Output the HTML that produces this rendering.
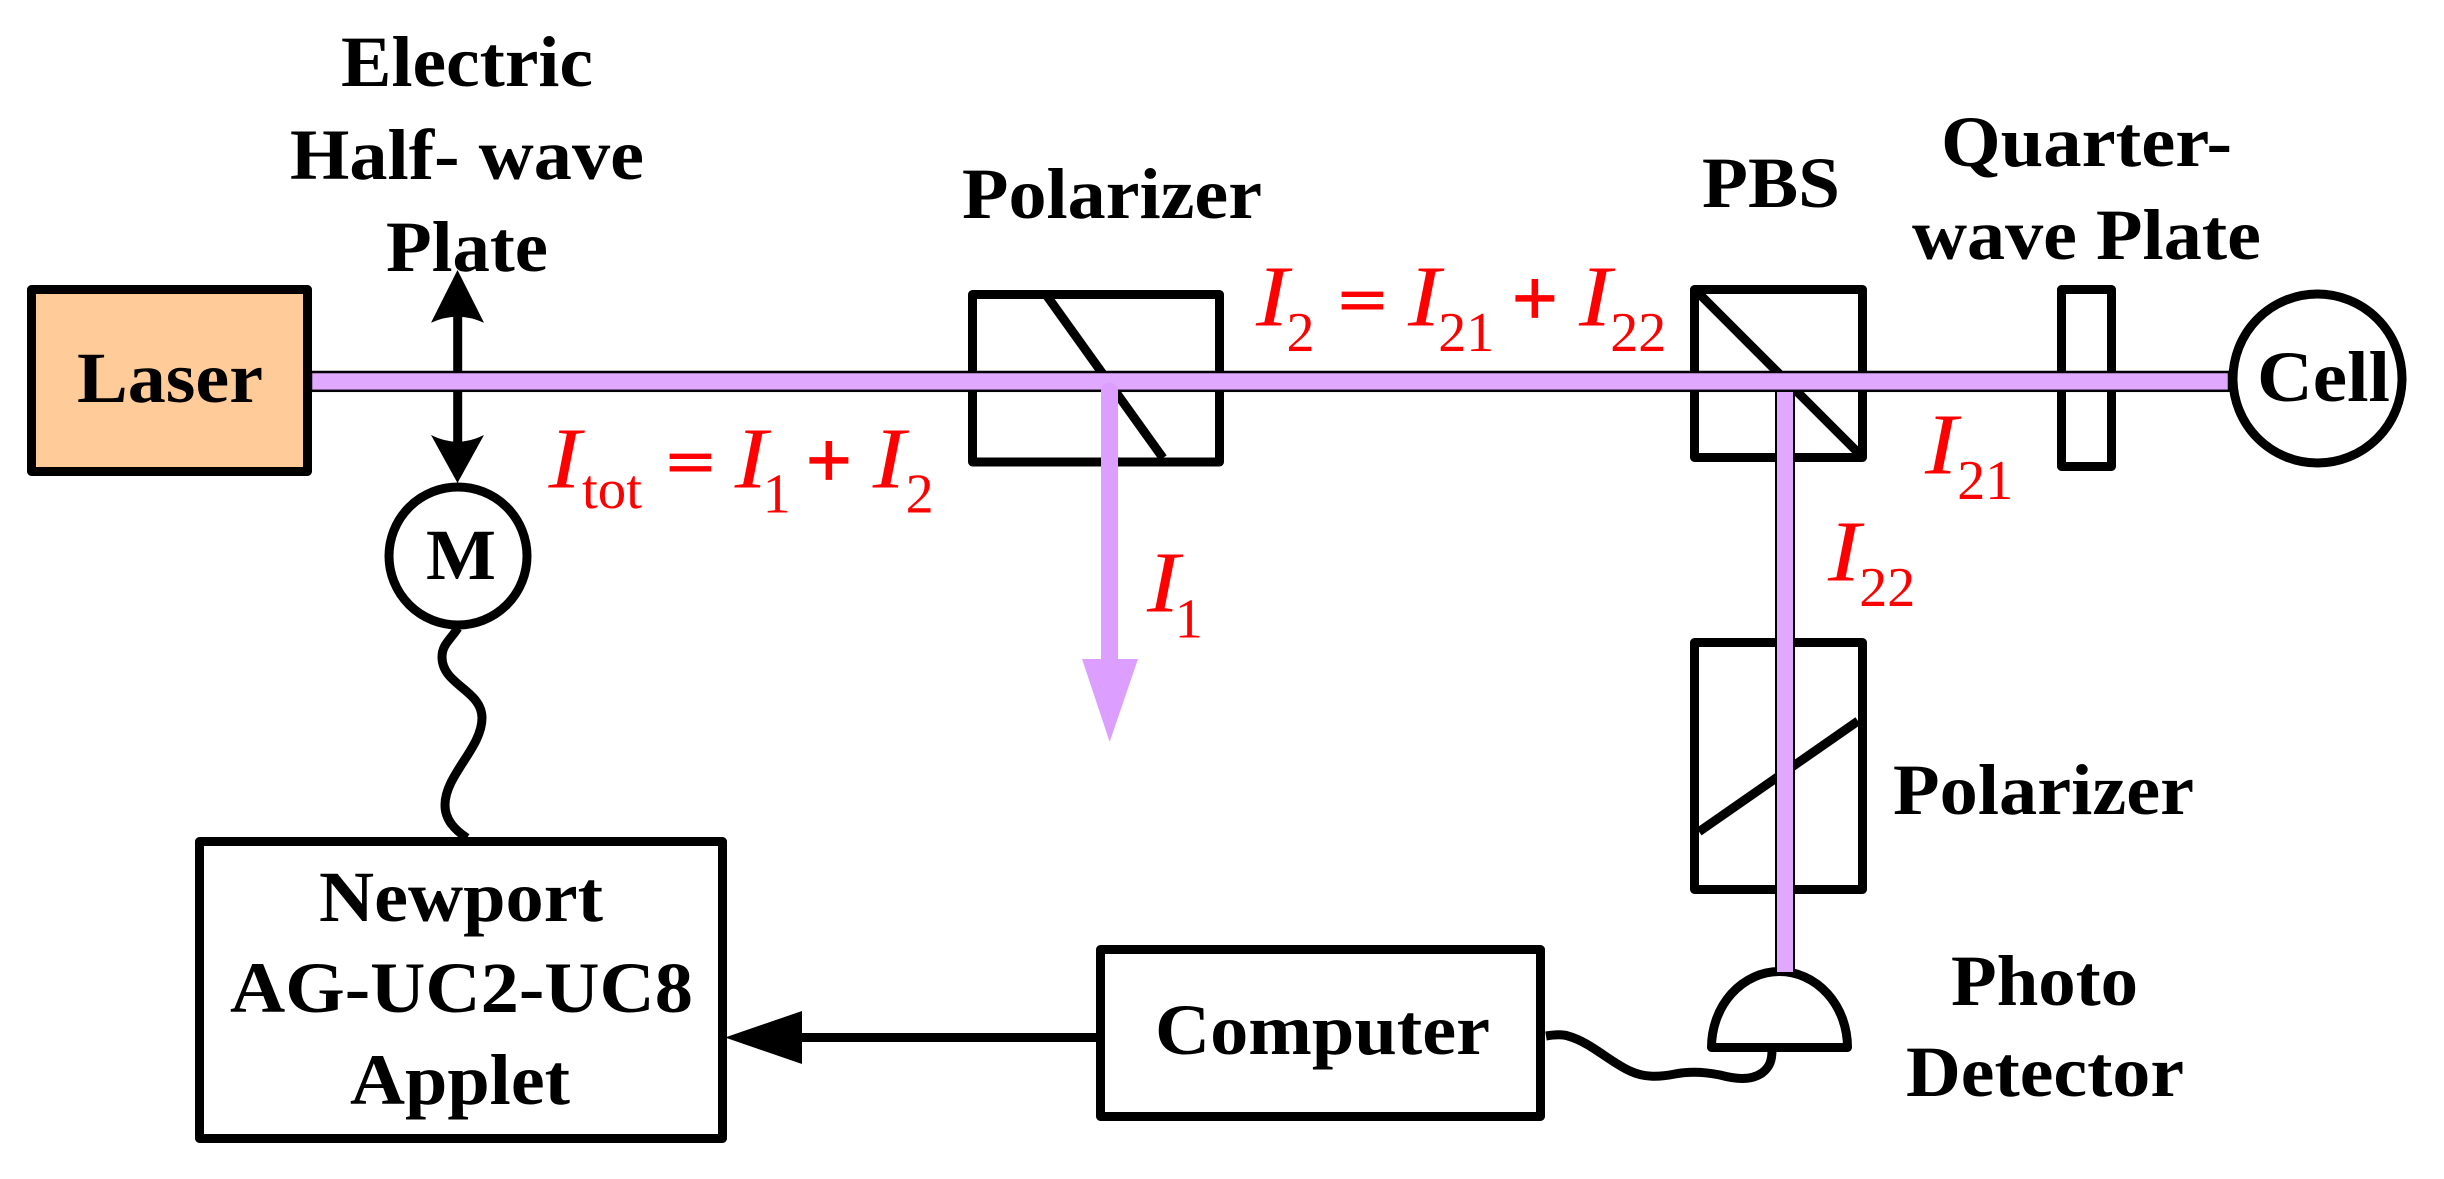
<!DOCTYPE html>
<html><head><meta charset="utf-8"><style>
html,body{margin:0;padding:0;background:#fff;width:2444px;height:1179px;overflow:hidden}
svg{display:block}
.b{font-family:"Liberation Serif",serif;font-weight:bold;font-size:71.5px;fill:#000}
.i{font-family:"Liberation Serif",serif;font-style:italic;font-size:87px;fill:#f00}
.s{font-family:"Liberation Serif",serif;font-size:56px;fill:#f00}
.e{font-family:"Liberation Serif",serif;font-size:62.7px;fill:#f00;stroke:#f00;stroke-width:1;font-weight:bold}
.o{font-family:"Liberation Serif",serif;font-size:82px;fill:#f00;stroke:#f00;stroke-width:.8;font-weight:bold}
</style></head><body>
<svg width="2444" height="1179" viewBox="0 0 2444 1179" xmlns="http://www.w3.org/2000/svg">
<rect width="2444" height="1179" fill="#fff"/>
<g fill="none" stroke="#000" stroke-width="9" stroke-linejoin="round">
<rect x="31.500" y="289.500" width="276" height="182" fill="#FFCC99"/>
<rect x="972.500" y="294.500" width="247" height="167.500"/>
<path d="M1047,296 L1163,458"/>
<rect x="1694.500" y="289.500" width="168" height="168"/>
<path d="M1697.400,292 L1858.400,453"/>
<rect x="2061.500" y="289.500" width="50" height="177"/>
<circle cx="2317.500" cy="378.500" r="84.500"/>
<rect x="1694.500" y="642.500" width="168" height="247"/>
<path d="M1699,831.700 L1858,721"/>
<rect x="199.500" y="841.500" width="523" height="297"/>
<rect x="1100.500" y="949.500" width="440" height="167"/>
<circle cx="458" cy="556" r="69" fill="#fff"/>
<path d="M458,628 C450,640 442,645 442,657 C442,685 482,690 482,718 C482,748 445,775 445,805 C445,820 455,830 467,838"/>
<path d="M1546,1036 C1552,1035 1562,1034 1568,1036 C1590,1042 1610,1062 1630,1071 C1645,1078 1660,1077 1675,1074 C1690,1071 1705,1072 1720,1075 C1735,1079 1750,1081 1762,1073 C1770,1067 1772,1060 1772,1050"/>
<path d="M1711.500,1047.500 A68,76 0 0 1 1847.500,1047.500 Z" fill="#fff"/>
<path d="M457.700,316 V372 M457.700,392 V442"/>
<path d="M800,1037.500 H1098"/>
</g>
<path d="M457.500,270 L484,322.700 Q457.500,310.700 431,322.700 Z" fill="#000"/>
<path d="M457.500,483 L484,435 Q457.500,448.400 431,435 Z" fill="#000"/>
<path d="M725,1037.500 L802,1011 V1064 Z" fill="#000"/>
<rect x="311" y="372" width="1918" height="18.800" fill="#E0A8FF" stroke="#000" stroke-width="2.500"/>
<rect x="1776" y="391" width="18" height="582" fill="#E0A8FF" stroke="#000" stroke-width="2"/>
<path d="M1101,661 V391 A8.500,8.500 0 0 1 1118,391 V661 Z" fill="#DD9FFF"/>
<path d="M1082,659 H1138 L1109.700,742 Z" fill="#DD9FFF"/>

<text class="b" x="341" y="86" textLength="252" lengthAdjust="spacingAndGlyphs">Electric</text>
<text class="b" x="290" y="179" textLength="354" lengthAdjust="spacingAndGlyphs">Half- wave</text>
<text class="b" x="386" y="271" textLength="162" lengthAdjust="spacingAndGlyphs">Plate</text>
<text class="b" x="77" y="402" textLength="186" lengthAdjust="spacingAndGlyphs">Laser</text>
<text class="b" x="426" y="579" textLength="70" lengthAdjust="spacingAndGlyphs">M</text>
<text class="b" x="962" y="218" textLength="300" lengthAdjust="spacingAndGlyphs">Polarizer</text>
<text class="b" x="1702" y="207" textLength="138" lengthAdjust="spacingAndGlyphs">PBS</text>
<text class="b" x="1941" y="166" textLength="291" lengthAdjust="spacingAndGlyphs">Quarter-</text>
<text class="b" x="1912" y="259" textLength="349" lengthAdjust="spacingAndGlyphs">wave Plate</text>
<text class="b" x="2257" y="401" textLength="133" lengthAdjust="spacingAndGlyphs">Cell</text>
<text class="b" x="319" y="921" textLength="284" lengthAdjust="spacingAndGlyphs">Newport</text>
<text class="b" x="230" y="1012" textLength="463" lengthAdjust="spacingAndGlyphs">AG-UC2-UC8</text>
<text class="b" x="350" y="1104" textLength="220" lengthAdjust="spacingAndGlyphs">Applet</text>
<text class="b" x="1155" y="1054" textLength="335" lengthAdjust="spacingAndGlyphs">Computer</text>
<text class="b" x="1893" y="814" textLength="301" lengthAdjust="spacingAndGlyphs">Polarizer</text>
<text class="b" x="1951" y="1005" textLength="187" lengthAdjust="spacingAndGlyphs">Photo</text>
<text class="b" x="1906" y="1096" textLength="278" lengthAdjust="spacingAndGlyphs">Detector</text>

<text class="i" x="548.500" y="487.700" textLength="32.600" lengthAdjust="spacingAndGlyphs">I</text><text class="s" x="582" y="508" textLength="60" lengthAdjust="spacingAndGlyphs">tot</text>
<text class="e" transform="translate(666,483.700) scale(1.38,1)">=</text>
<text class="i" x="734.800" y="487.700" textLength="32.600" lengthAdjust="spacingAndGlyphs">I</text><text class="s" x="762.800" y="512.700">1</text>
<text class="o" x="805.500" y="487.700">+</text>
<text class="i" x="872.800" y="487.700" textLength="32.600" lengthAdjust="spacingAndGlyphs">I</text><text class="s" x="905.600" y="512.700">2</text>

<text class="i" x="1256" y="325.500" textLength="32.600" lengthAdjust="spacingAndGlyphs">I</text><text class="s" x="1286.500" y="351">2</text>
<text class="e" transform="translate(1338,321.700) scale(1.38,1)">=</text>
<text class="i" x="1408" y="325.500" textLength="32.600" lengthAdjust="spacingAndGlyphs">I</text><text class="s" x="1438.300" y="351">21</text>
<text class="o" x="1511.500" y="325.500">+</text>
<text class="i" x="1579" y="325.500" textLength="32.600" lengthAdjust="spacingAndGlyphs">I</text><text class="s" x="1610.300" y="351">22</text>

<text class="i" x="1925" y="473.500" textLength="32.600" lengthAdjust="spacingAndGlyphs">I</text><text class="s" x="1957.300" y="499">21</text>
<text class="i" x="1828" y="580.500" textLength="32.600" lengthAdjust="spacingAndGlyphs">I</text><text class="s" x="1859.300" y="606">22</text>
<text class="i" x="1147" y="611.700" textLength="32.600" lengthAdjust="spacingAndGlyphs">I</text><text class="s" x="1174.800" y="637.700">1</text>
</svg>
</body></html>
